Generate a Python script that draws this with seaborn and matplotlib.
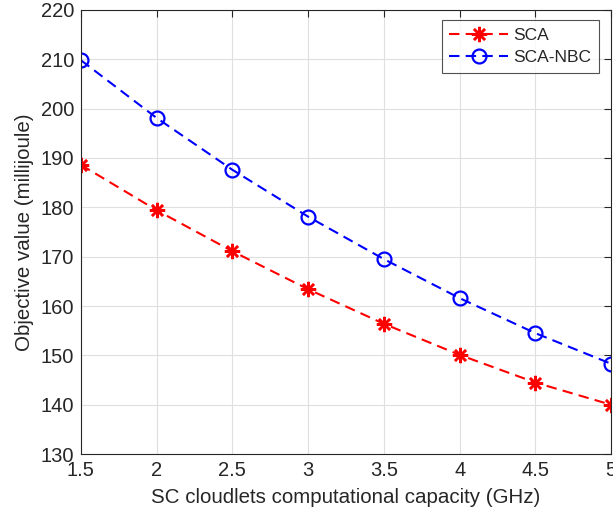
import matplotlib
matplotlib.use("Agg")
import matplotlib.pyplot as plt
import seaborn as sns
import pandas as pd

capacity = [1.5, 2.0, 2.5, 3.0, 3.5, 4.0, 4.5, 5.0]
sca = [188.6, 179.4, 171.1, 163.4, 156.4, 150.1, 144.5, 140.0]
sca_nbc = [209.8, 198.1, 187.6, 178.1, 169.5, 161.6, 154.5, 148.3]
xticks = [1.5, 2, 2.5, 3, 3.5, 4, 4.5, 5]
xtick_labels = ["1.5", "2", "2.5", "3", "3.5", "4", "4.5", "5"]
yticks = [130, 140, 150, 160, 170, 180, 190, 200, 210, 220]

sns.set_style("white")
plt.rcParams["font.family"] = ["Liberation Sans", "DejaVu Sans"]

fig = plt.figure(figsize=(6.13, 5.19), dpi=100)
ax = fig.add_axes([0.132, 0.125, 0.865, 0.856])

df1 = pd.DataFrame({"x": capacity, "y": sca})
df2 = pd.DataFrame({"x": capacity, "y": sca_nbc})

sns.lineplot(data=df1, x="x", y="y", ax=ax, color="#ff0000", lw=1.5,
             dashes=False, linestyle=(0, (5, 3)), marker=(8, 2, 0),
             markersize=11, markeredgewidth=1.8, markeredgecolor="#ff0000",
             label="SCA")
sns.lineplot(data=df2, x="x", y="y", ax=ax, color="#0000ff", lw=1.5,
             dashes=False, linestyle=(0, (5, 3)), marker="o",
             markersize=10, markerfacecolor="none", markeredgewidth=1.6,
             markeredgecolor="#0000ff", label="SCA-NBC")

ax.set_xlim(1.5, 5)
ax.set_ylim(130, 220)
ax.set_xticks(xticks)
ax.set_xticklabels(xtick_labels)
ax.set_yticks(yticks)
ax.grid(True, color="#dfdfdf", lw=0.8)
ax.set_axisbelow(True)
for s in ax.spines.values():
    s.set_color("#262626")
    s.set_linewidth(0.8)
    s.set_visible(True)
ax.tick_params(direction="in", top=True, right=True, length=5, width=0.8,
               colors="#262626", labelsize=14.5, pad=5)
ax.set_xlabel("SC cloudlets computational capacity (GHz)", fontsize=14.8, color="#262626", labelpad=6)
ax.set_ylabel("Objective value (millijoule)", fontsize=14.8, color="#262626", labelpad=5)

leg = ax.legend(loc="upper right", bbox_to_anchor=(0.978, 0.978), fontsize=12.5,
                frameon=True, fancybox=False, edgecolor="#262626",
                handlelength=3.4, borderpad=0.45, labelspacing=0.4,
                handletextpad=0.3, borderaxespad=0.0)
leg.get_frame().set_linewidth(0.8)

fig.savefig("out.png", dpi=100)
